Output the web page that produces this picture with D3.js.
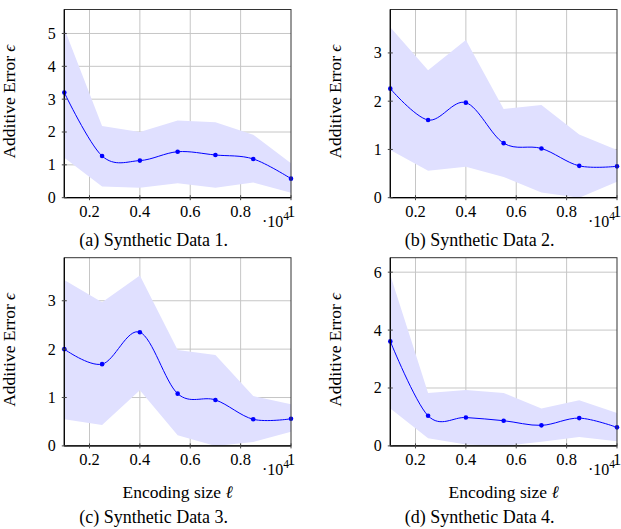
<!DOCTYPE html>
<html>
<head>
<meta charset="utf-8">
<script src="https://cdn.jsdelivr.net/npm/d3@7"></script>
<style>
  body { margin: 0; background: #fff; }
</style>
</head>
<body>
<div id="chart"></div>
<script>
// encoding sizes (x)
var sizes = [1000, 2500, 4000, 5500, 7000, 8500, 10000];

// Synthetic Data 1
var mean1  = [3.2, 1.27, 1.13, 1.4, 1.3, 1.18, 0.58];
var upper1 = [5.15, 2.18, 2.0, 2.35, 2.3, 1.92, 1.05];
var lower1 = [1.22, 0.34, 0.3, 0.44, 0.3, 0.46, 0.15];
// Synthetic Data 2
var mean2  = [2.26, 1.61, 1.97, 1.13, 1.02, 0.66, 0.65];
var upper2 = [3.53, 2.64, 3.27, 1.84, 1.92, 1.31, 0.99];
var lower2 = [0.99, 0.56, 0.64, 0.43, 0.11, 0.0, 0.33];
// Synthetic Data 3
var mean3  = [2.0, 1.69, 2.35, 1.08, 0.95, 0.55, 0.56];
var upper3 = [3.43, 2.97, 3.52, 1.98, 1.88, 1.03, 0.86];
var lower3 = [0.55, 0.43, 1.15, 0.22, 0.0, 0.08, 0.29];
// Synthetic Data 4
var mean4  = [3.61, 1.04, 0.98, 0.87, 0.71, 0.96, 0.64];
var upper4 = [5.9, 1.83, 1.93, 1.83, 1.29, 1.58, 1.14];
var lower4 = [1.29, 0.26, 0.05, 0.0, 0.14, 0.31, 0.16];

var yMaxes = [5.73, 3.9, 3.89, 6.5];
var yTickSets = [[0, 1, 2, 3, 4, 5], [0, 1, 2, 3], [0, 1, 2, 3], [0, 2, 4, 6]];
var xTickVals = [2000, 4000, 6000, 8000, 10000];
var xTickLabels = ["0.2", "0.4", "0.6", "0.8", "1"];
var captions = ["(a) Synthetic Data 1.", "(b) Synthetic Data 2.", "(c) Synthetic Data 3.", "(d) Synthetic Data 4."];
var yLabel = "Additive Error ";
var xLabel = "Encoding size ";

var means = [mean1, mean2, mean3, mean4];
var uppers = [upper1, upper2, upper3, upper4];
var lowers = [lower1, lower2, lower3, lower4];

var width = 621, height = 529;
var pw = 226.7, ph = 188.2;
var origins = [[64.3, 9.5], [390.3, 9.5], [64.3, 257.7], [390.3, 257.7]];
var serif = "'Liberation Serif', 'DejaVu Serif', serif";

var svg = d3.select("#chart").append("svg")
    .attr("width", width)
    .attr("height", height)
    .style("font-family", serif);

var defs = svg.append("defs");

origins.forEach(function(o, i) {
  var g = svg.append("g").attr("transform", "translate(" + o[0] + "," + o[1] + ")");

  var x = d3.scaleLinear().domain([1000, 10000]).range([0, pw]);
  var y = d3.scaleLinear().domain([0, yMaxes[i]]).range([ph, 0]);

  defs.append("clipPath").attr("id", "clip" + i)
    .append("rect").attr("width", pw).attr("height", ph);

  // grid
  g.append("g").selectAll("line").data(xTickVals.slice(0, 4)).enter().append("line")
      .attr("x1", function(d) { return x(d); })
      .attr("x2", function(d) { return x(d); })
      .attr("y1", 0).attr("y2", ph)
      .attr("stroke", "#c6c6c6").attr("stroke-width", 1);
  g.append("g").selectAll("line").data(yTickSets[i].slice(1)).enter().append("line")
      .attr("x1", 0).attr("x2", pw)
      .attr("y1", function(d) { return y(d); })
      .attr("y2", function(d) { return y(d); })
      .attr("stroke", "#c6c6c6").attr("stroke-width", 1);

  var data = sizes.map(function(s, k) {
    return { x: s, m: means[i][k], hi: uppers[i][k], lo: lowers[i][k] };
  });

  // band
  var area = d3.area()
      .x(function(d) { return x(d.x); })
      .y0(function(d) { return y(d.lo); })
      .y1(function(d) { return y(d.hi); });
  g.append("path")
      .datum(data)
      .attr("clip-path", "url(#clip" + i + ")")
      .attr("d", area)
      .attr("fill", "#e0e0ff");

  // mean line
  var line = d3.line()
      .curve(d3.curveCardinal.tension(0))
      .x(function(d) { return x(d.x); })
      .y(function(d) { return y(d.m); });
  g.append("path")
      .datum(data)
      .attr("d", line)
      .attr("fill", "none")
      .attr("stroke", "#0000ff")
      .attr("stroke-width", 1);

  g.append("g").selectAll("circle").data(data).enter().append("circle")
      .attr("cx", function(d) { return x(d.x); })
      .attr("cy", function(d) { return y(d.m); })
      .attr("r", 2.3)
      .attr("fill", "#0000ff");

  // frame
  g.append("rect")
      .attr("width", pw).attr("height", ph)
      .attr("fill", "none")
      .attr("stroke", "#333").attr("stroke-width", 1);
  g.append("line").attr("x1", 0).attr("x2", 0).attr("y1", 0).attr("y2", ph)
      .attr("stroke", "#000").attr("stroke-width", 1.2);
  g.append("line").attr("x1", 0).attr("x2", pw).attr("y1", ph).attr("y2", ph)
      .attr("stroke", "#000").attr("stroke-width", 1.2);

  // y ticks
  var yt = g.append("g").selectAll("g").data(yTickSets[i]).enter().append("g")
      .attr("transform", function(d) { return "translate(0," + y(d) + ")"; });
  yt.append("line").attr("x1", -2.5).attr("x2", 2.5).attr("stroke", "#444");
  yt.append("text")
      .attr("x", -8.5).attr("dy", "0.34em")
      .attr("text-anchor", "end")
      .style("font-size", "16px")
      .text(function(d) { return d; });

  // x ticks
  var xt = g.append("g").selectAll("g").data(xTickVals).enter().append("g")
      .attr("transform", function(d) { return "translate(" + x(d) + "," + ph + ")"; });
  xt.append("line").attr("y1", -2.5).attr("y2", 2.5).attr("stroke", "#444");
  xt.append("text")
      .attr("y", 19.5)
      .attr("text-anchor", "middle")
      .style("font-size", "16.5px")
      .text(function(d, k) { return xTickLabels[k]; });

  // scale factor
  var sc = g.append("text")
      .attr("x", pw - 29).attr("y", ph + 29)
      .style("font-size", "16px");
  sc.append("tspan").text("\u00b710");
  sc.append("tspan").attr("dy", -7).style("font-size", "11.5px").text("4");

  // y label
  var yl = g.append("text")
      .attr("transform", "translate(" + (-49.5) + "," + (ph / 2 - 2) + ") rotate(-90)")
      .attr("text-anchor", "middle")
      .style("font-size", "17.5px");
  yl.append("tspan").text(yLabel);
  yl.append("tspan").style("font-style", "italic").text("\u03f5");

  // x label for bottom row
  if (i >= 2) {
    var xl = g.append("text")
        .attr("x", pw / 2).attr("y", ph + 52.5)
        .attr("text-anchor", "middle")
        .style("font-size", "17.5px");
    xl.append("tspan").text(xLabel);
    xl.append("tspan").style("font-style", "italic").text("\u2113");
  }

  // caption
  g.append("text")
      .attr("x", pw / 2 - 24)
      .attr("y", i >= 2 ? ph + 77.5 : ph + 48.5)
      .attr("text-anchor", "middle")
      .style("font-size", "18px")
      .text(captions[i]);
});
</script>
</body>
</html>
